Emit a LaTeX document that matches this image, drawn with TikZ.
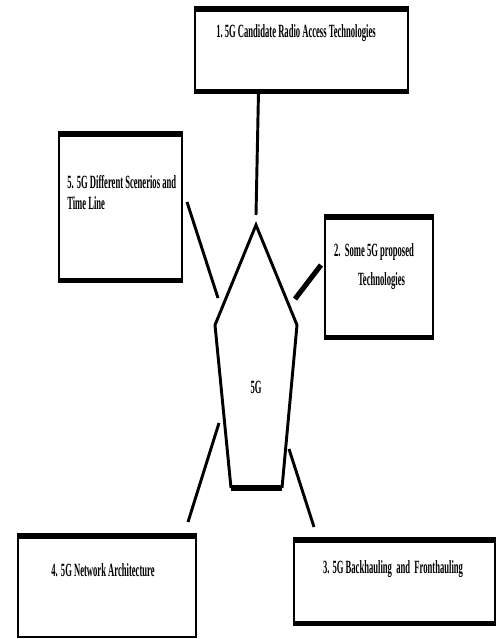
\documentclass[tikz,border=0pt]{standalone}
\usepackage{fontspec}
\newfontfamily\condfont[FakeStretch=0.46]{Liberation Serif}
\usepackage{tikz}
\usetikzlibrary{positioning, calc, fit}

\tikzset{
  box/.style={draw=black, line width=1.6pt, inner sep=0pt},
  boxbar/.style={black, line width=4.5pt},
  boxtext/.style={font=\condfont\bfseries\fontsize{14}{15.75}\selectfont, text=black, inner sep=0pt},
  link/.style={black, line width=2.2pt},
}

\begin{document}
\begin{tikzpicture}[x=0.75pt, y=-0.75pt]
\useasboundingbox (0,0) rectangle (496,639);

% --- Topic boxes ---
\coordinate (b1nw) at (195,8);   \coordinate (b1se) at (408,92);
\coordinate (b2nw) at (325,216); \coordinate (b2se) at (433,338);
\coordinate (b3nw) at (294,539); \coordinate (b3se) at (495,624);
\coordinate (b4nw) at (18,535);  \coordinate (b4se) at (196,637);
\coordinate (b5nw) at (59,133);  \coordinate (b5se) at (182,281);

\node[box, fit=(b1nw)(b1se)] (b1) {};
\node[box, fit=(b2nw)(b2se)] (b2) {};
\node[box, fit=(b3nw)(b3se)] (b3) {};
\node[box, fit=(b4nw)(b4se)] (b4) {};
\node[box, fit=(b5nw)(b5se)] (b5) {};

% thick top and bottom edges
\foreach \b in {b1,b2,b3,b4,b5} {
  \draw[boxbar] ([yshift=-1.7pt]\b.north west) -- ([yshift=-1.7pt]\b.north east);
}
\foreach \b in {b1,b2,b3,b5} {
  \draw[boxbar, line width=3.5pt] ([yshift=1.2pt]\b.south west) -- ([yshift=1.2pt]\b.south east);
}

% box texts
\node[boxtext] (t1) at (296,33) {1.\ 5G Candidate Radio Access Technologies};
\node[boxtext, align=center, font=\condfont\bfseries\fontsize{14}{21.75}\selectfont]
      (t2) at (374,267) {2.\ \ Some 5G proposed\\\hspace*{0.8em}Technologies};
\node[boxtext] (t3) at (393,569) {3.\,5G Backhauling\ \ and\ \ Fronthauling};
\node[boxtext] (t4) at (103,570) {4.\,5G Network Architecture};
\node[boxtext, align=left, anchor=north west] (t5) at (67,175) {5.\,5G Different Scenerios and\\Time Line};

% --- Central pentagon ---
\coordinate (ptop) at (256,225);
\coordinate (pul) at (215,325);
\coordinate (pur) at (297,325);
\coordinate (pbr) at (282,488);
\coordinate (pbl) at (231,488);
\draw[link, line join=miter] (pbl) -- (pul) -- (ptop) -- (pur) -- (pbr);
\draw[black, line width=4.5pt] (pbl) -- (pbr);
\node[boxtext] (core) at (256,387) {5G};

% --- Connectors ---
\coordinate (c1a) at ($(b1.south west)!0.3!(b1.south east)$);
\coordinate (c1b) at (256,215);
\coordinate (c2a) at (295,299);
\coordinate (c2b) at (321,265);
\coordinate (c3a) at (289,449);
\coordinate (c3b) at (314,527);
\coordinate (c4a) at (219,423);
\coordinate (c4b) at (188,522);
\coordinate (c5a) at (187,202);
\coordinate (c5b) at (218,298);

\draw[link] (c1a) -- (c1b);
\draw[link, line width=3.8pt] (c2a) -- (c2b);
\draw[link] (c3a) -- (c3b);
\draw[link] (c4a) -- (c4b);
\draw[link] (c5a) -- (c5b);

\end{tikzpicture}
\end{document}
